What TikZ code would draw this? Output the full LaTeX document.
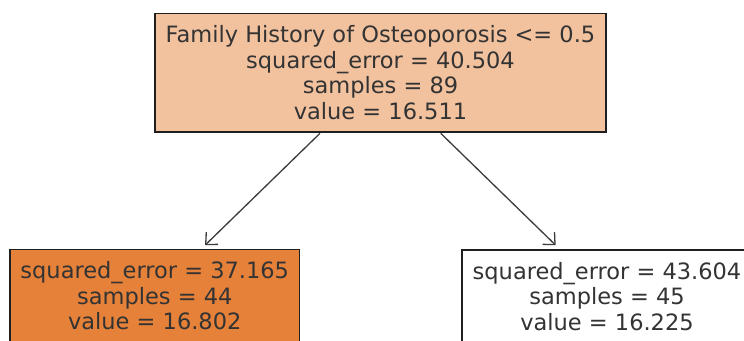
\documentclass[tikz,border=0pt]{standalone}
\usepackage{fontspec}
\setmainfont{DejaVu Sans}
\usetikzlibrary{arrows.meta,calc}
\definecolor{inkgray}{HTML}{333333}
\definecolor{edgegray}{HTML}{3C3C3C}
\definecolor{rootfill}{HTML}{F2C19E}
\definecolor{leaffill}{HTML}{E58139}
\tikzset{
  treebox/.style={draw=black!88, line width=1.6pt, align=center, inner sep=0pt,
    text=inkgray, font=\fontsize{22.5pt}{25.5pt}\selectfont,
    minimum width=#1, minimum height=118.4pt},
  leafbox/.style={treebox=289.5pt, minimum height=93pt},
  treeedge/.style={draw=edgegray, line width=1.3pt,
    -{Straight Barb[length=9pt,width=17pt,line width=1.3pt]}}
}
\begin{document}
\begin{tikzpicture}[x=1pt,y=-1pt]
  \useasboundingbox (0,0) rectangle (744,340);
  \clip (0,0) rectangle (744,340);
  \fill[white] (0,0) rectangle (744,340);

  % split node
  \node[treebox=451pt, fill=rootfill] (root) at (380.5,72.5)
    {Family History of Osteoporosis <= 0.5\\squared\_error = 40.504\\samples = 89\\value = 16.511};

  % leaves
  \node[leafbox, fill=leaffill] (left) at (154.75,296)
    {squared\_error = 37.165\\samples = 44\\value = 16.802};
  \node[leafbox, fill=white] (right) at (607,296.5)
    {squared\_error = 43.604\\samples = 45\\value = 16.225};

  % edges
  \draw[treeedge] ($(root.south)+(-60.5,0.8)$) -- ($(left.north)+(50.3,-3.5)$);
  \draw[treeedge] ($(root.south)+(60.2,0.8)$) -- ($(right.north)+(-51.3,-4)$);
\end{tikzpicture}
\end{document}
